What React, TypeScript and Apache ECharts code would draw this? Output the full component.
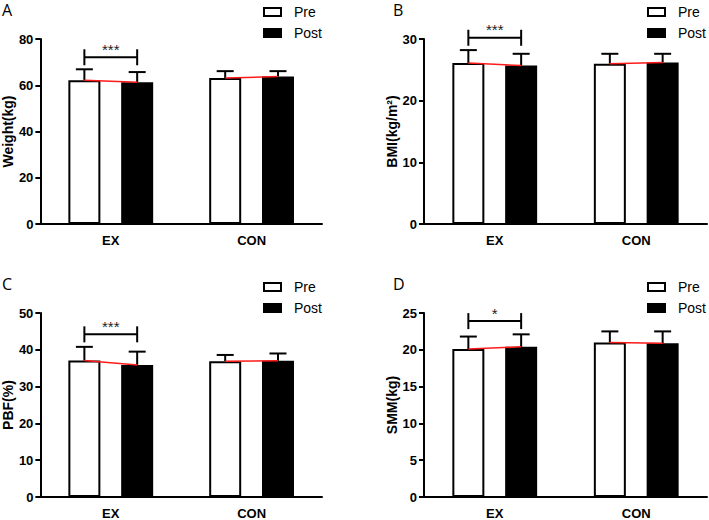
import React, { useEffect, useRef } from 'react';
import * as echarts from 'echarts';

// ---------------- data ----------------
const categories = ['EX', 'CON'];
const panelLetters = ['A', 'B', 'C', 'D'];
const yNames = ['Weight(kg)', 'BMI(kg/m²)', 'PBF(%)', 'SMM(kg)'];
const yMax = [80, 30, 50, 25];
const yInterval = [20, 10, 10, 5];

const weightPre = [62.2, 63.1];
const weightPreSD = [4.7, 3.0];
const weightPost = [61.3, 63.8];
const weightPostSD = [4.4, 2.3];

const bmiPre = [26.1, 26.0];
const bmiPreSD = [2.1, 1.6];
const bmiPost = [25.7, 26.2];
const bmiPostSD = [1.9, 1.4];

const pbfPre = [37.1, 36.9];
const pbfPreSD = [3.7, 1.7];
const pbfPost = [35.9, 37.0];
const pbfPostSD = [3.6, 2.0];

const smmPre = [20.1, 21.0];
const smmPreSD = [1.7, 1.5];
const smmPost = [20.4, 20.9];
const smmPostSD = [1.7, 1.6];

const sigValue = [72.1, 30.2, 44.2, 23.9];
const sigMarks = ['***', '***', '***', '*'];

const preSets = [weightPre, bmiPre, pbfPre, smmPre];
const preSDSets = [weightPreSD, bmiPreSD, pbfPreSD, smmPreSD];
const postSets = [weightPost, bmiPost, pbfPost, smmPost];
const postSDSets = [weightPostSD, bmiPostSD, pbfPostSD, smmPostSD];

// ---------------- layout / style ----------------
const grids = [
  { left: 40, top: 39, width: 282, height: 185 },
  { left: 424, top: 39, width: 283, height: 185 },
  { left: 40, top: 313, width: 282, height: 186 },
  { left: 424, top: 313, width: 283, height: 186 },
];
const legendPos = [
  { left: 263, top: 5 },
  { left: 647, top: 5 },
  { left: 263, top: 280 },
  { left: 647, top: 280 },
];
const letterPos = [
  { left: 2, top: 1 },
  { left: 393, top: 1 },
  { left: 2, top: 275 },
  { left: 393, top: 275 },
];

const BAR_W = 32;
const GAP_RATIO = 0.65;
const HALF = (BAR_W + BAR_W * GAP_RATIO) / 2;
const CAP = 8.5;
const AXIS_FONT = 'Liberation Sans, Arial, sans-serif';

function buildOption() {
  const xAxis: any[] = [];
  const yAxis: any[] = [];
  const series: any[] = [];
  const legend: any[] = [];
  const title: any[] = [];

  for (let i = 0; i < 4; i++) {
    xAxis.push({
      type: 'category',
      gridIndex: i,
      data: categories,
      axisLine: { lineStyle: { color: '#000', width: 2 } },
      axisTick: { alignWithLabel: true, length: 4, lineStyle: { color: '#000', width: 2 } },
      axisLabel: { color: '#000', fontWeight: 'bold', fontSize: 13, fontFamily: AXIS_FONT, margin: 10 },
    });
    yAxis.push({
      type: 'value',
      gridIndex: i,
      min: 0,
      max: yMax[i],
      interval: yInterval[i],
      name: yNames[i],
      nameLocation: 'middle',
      nameGap: 24,
      nameTextStyle: { color: '#000', fontWeight: 'bold', fontSize: 14, fontFamily: AXIS_FONT },
      axisLine: { show: true, lineStyle: { color: '#000', width: 2 } },
      axisTick: { show: true, length: 5, lineStyle: { color: '#000', width: 2 } },
      axisLabel: { color: '#000', fontWeight: 'bold', fontSize: 13, fontFamily: AXIS_FONT, margin: 7 },
      splitLine: { show: false },
    });

    series.push({
      name: 'Pre',
      type: 'bar',
      xAxisIndex: i,
      yAxisIndex: i,
      data: preSets[i],
      barWidth: BAR_W,
      barGap: GAP_RATIO * 100 + '%',
      itemStyle: { color: '#fff', borderColor: '#000', borderWidth: 2 },
      emphasis: { disabled: true },
    });
    series.push({
      name: 'Post',
      type: 'bar',
      xAxisIndex: i,
      yAxisIndex: i,
      data: postSets[i],
      barWidth: BAR_W,
      barGap: GAP_RATIO * 100 + '%',
      itemStyle: { color: '#000', borderColor: '#000', borderWidth: 2 },
      emphasis: { disabled: true },
    });

    const errData = categories.map((_, c) => [c, preSets[i][c], preSDSets[i][c], postSets[i][c], postSDSets[i][c]]);
    series.push({
      name: 'err' + i,
      type: 'custom',
      xAxisIndex: i,
      yAxisIndex: i,
      z: 5,
      clip: false,
      silent: true,
      encode: { x: 0, y: [1, 3] },
      data: errData,
      renderItem: (params: any, api: any) => {
        const c = api.value(0);
        const pre = api.value(1);
        const preSD = api.value(2);
        const post = api.value(3);
        const postSD = api.value(4);
        const base = api.coord([c, pre]);
        const xPre = base[0] - HALF;
        const xPost = base[0] + HALF;
        const yPre = base[1];
        const yPreTop = api.coord([c, pre + preSD])[1];
        const yPost = api.coord([c, post])[1];
        const yPostTop = api.coord([c, post + postSD])[1];
        const black = { stroke: '#000', lineWidth: 2 };
        return {
          type: 'group',
          children: [
            { type: 'line', shape: { x1: xPre, y1: yPre, x2: xPre, y2: yPreTop }, style: black },
            { type: 'line', shape: { x1: xPre - CAP, y1: yPreTop, x2: xPre + CAP, y2: yPreTop }, style: black },
            { type: 'line', shape: { x1: xPost, y1: yPost, x2: xPost, y2: yPostTop }, style: black },
            { type: 'line', shape: { x1: xPost - CAP, y1: yPostTop, x2: xPost + CAP, y2: yPostTop }, style: black },
            { type: 'line', shape: { x1: xPre, y1: yPre, x2: xPost, y2: yPost }, style: { stroke: '#ff1a1a', lineWidth: 1.5 } },
          ],
        };
      },
    });

    series.push({
      name: 'sig' + i,
      type: 'custom',
      xAxisIndex: i,
      yAxisIndex: i,
      z: 5,
      clip: false,
      silent: true,
      data: [[0, sigValue[i]]],
      renderItem: (params: any, api: any) => {
        const p = api.coord([api.value(0), api.value(1)]);
        const x1 = p[0] - HALF;
        const x2 = p[0] + HALF;
        const y = p[1];
        const black = { stroke: '#000', lineWidth: 2 };
        return {
          type: 'group',
          children: [
            { type: 'line', shape: { x1, y1: y, x2, y2: y }, style: black },
            { type: 'line', shape: { x1, y1: y - 8, x2: x1, y2: y + 8 }, style: black },
            { type: 'line', shape: { x1: x2, y1: y - 8, x2, y2: y + 8 }, style: black },
            {
              type: 'text',
              x: p[0],
              y: y - 8,
              style: {
                text: sigMarks[i],
                align: 'center',
                verticalAlign: 'middle',
                fontSize: 15,
                fontFamily: AXIS_FONT,
                fill: '#222',
              },
            },
          ],
        };
      },
    });

    legend.push({
      ...legendPos[i],
      orient: 'vertical',
      icon: 'rect',
      itemWidth: 17,
      itemHeight: 8,
      itemGap: 7,
      padding: 0,
      selectedMode: false,
      data: ['Pre', 'Post'],
      textStyle: { color: '#000', fontSize: 14, lineHeight: 14, fontFamily: AXIS_FONT, padding: [0, 0, 0, 8] },
    });

    title.push({
      text: panelLetters[i],
      ...letterPos[i],
      padding: 0,
      textStyle: { color: '#000', fontSize: 16, lineHeight: 17, fontWeight: 'normal', fontFamily: 'Open Sans, Noto Sans, sans-serif' },
    });
  }

  return {
    animation: false,
    backgroundColor: '#fff',
    grid: grids.map((g) => ({ ...g, containLabel: false })),
    xAxis,
    yAxis,
    series,
    legend,
    title,
  };
}

export default function App() {
  const ref = useRef<HTMLDivElement>(null);
  useEffect(() => {
    if (!ref.current) return;
    const chart = echarts.init(ref.current, undefined, { renderer: 'svg' });
    chart.setOption(buildOption() as any);
    return () => chart.dispose();
  }, []);
  return <div ref={ref} style={{ position: 'absolute', left: 0, top: 0, width: 709, height: 520 }} />;
}
